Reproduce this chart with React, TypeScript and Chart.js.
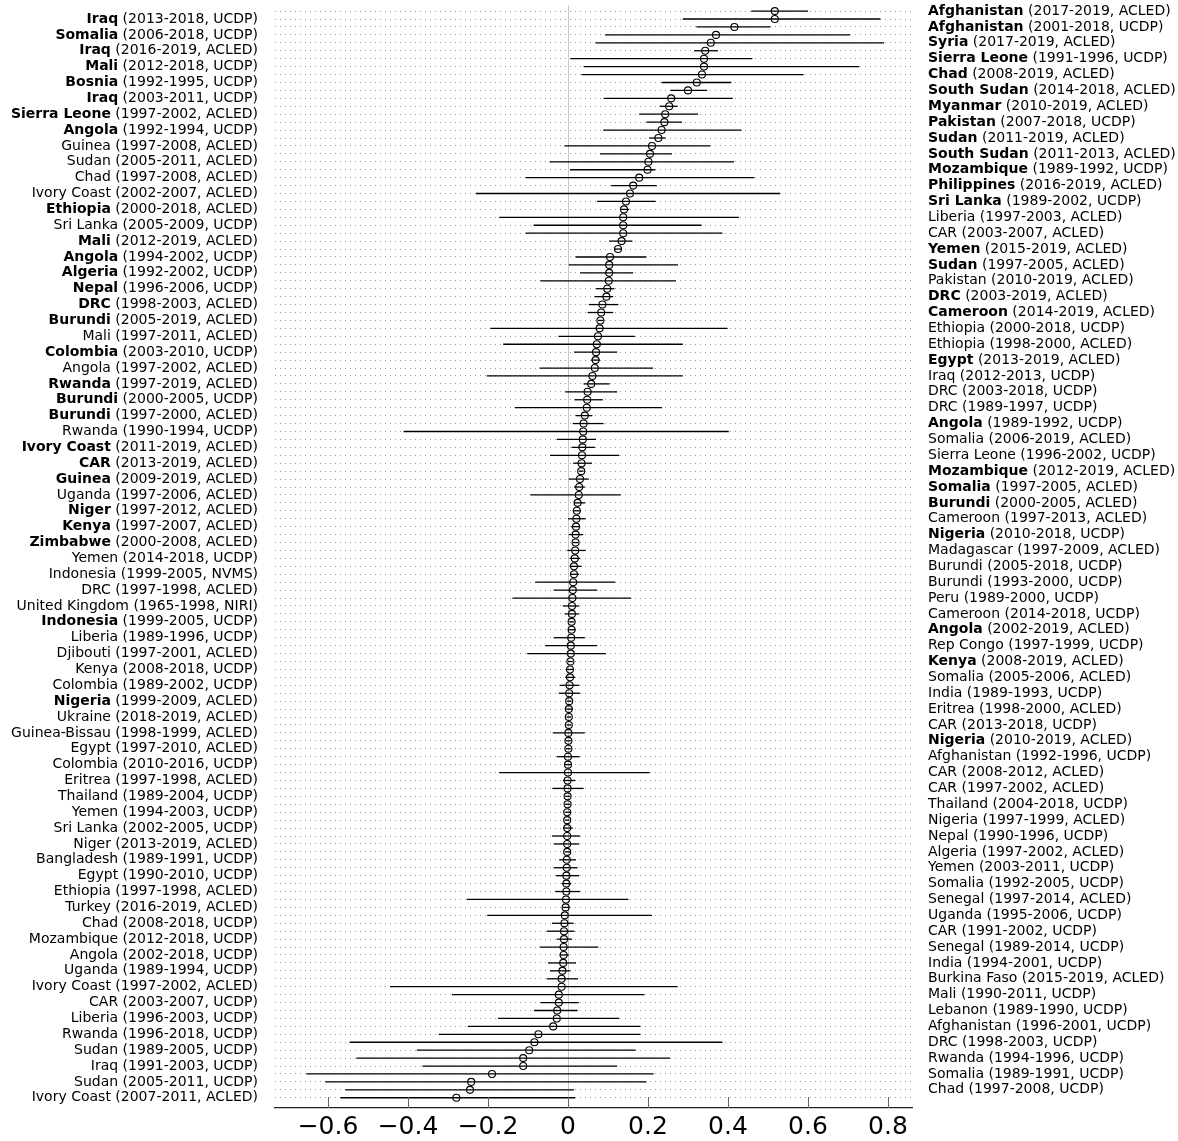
import React, { useEffect, useRef } from "react";
import { Chart, registerables } from "chart.js";

Chart.register(...registerables);

// Rows from top to bottom; even rows are labelled on the right, odd rows on the left.
const rowLabels: string[] = [
  "Afghanistan (2017-2019, ACLED)", "Iraq (2013-2018, UCDP)",
  "Afghanistan (2001-2018, UCDP)", "Somalia (2006-2018, UCDP)",
  "Syria (2017-2019, ACLED)", "Iraq (2016-2019, ACLED)",
  "Sierra Leone (1991-1996, UCDP)", "Mali (2012-2018, UCDP)",
  "Chad (2008-2019, ACLED)", "Bosnia (1992-1995, UCDP)",
  "South Sudan (2014-2018, ACLED)", "Iraq (2003-2011, UCDP)",
  "Myanmar (2010-2019, ACLED)", "Sierra Leone (1997-2002, ACLED)",
  "Pakistan (2007-2018, UCDP)", "Angola (1992-1994, UCDP)",
  "Sudan (2011-2019, ACLED)", "Guinea (1997-2008, ACLED)",
  "South Sudan (2011-2013, ACLED)", "Sudan (2005-2011, ACLED)",
  "Mozambique (1989-1992, UCDP)", "Chad (1997-2008, ACLED)",
  "Philippines (2016-2019, ACLED)", "Ivory Coast (2002-2007, ACLED)",
  "Sri Lanka (1989-2002, UCDP)", "Ethiopia (2000-2018, ACLED)",
  "Liberia (1997-2003, ACLED)", "Sri Lanka (2005-2009, UCDP)",
  "CAR (2003-2007, ACLED)", "Mali (2012-2019, ACLED)",
  "Yemen (2015-2019, ACLED)", "Angola (1994-2002, UCDP)",
  "Sudan (1997-2005, ACLED)", "Algeria (1992-2002, UCDP)",
  "Pakistan (2010-2019, ACLED)", "Nepal (1996-2006, UCDP)",
  "DRC (2003-2019, ACLED)", "DRC (1998-2003, ACLED)",
  "Cameroon (2014-2019, ACLED)", "Burundi (2005-2019, ACLED)",
  "Ethiopia (2000-2018, UCDP)", "Mali (1997-2011, ACLED)",
  "Ethiopia (1998-2000, ACLED)", "Colombia (2003-2010, UCDP)",
  "Egypt (2013-2019, ACLED)", "Angola (1997-2002, ACLED)",
  "Iraq (2012-2013, UCDP)", "Rwanda (1997-2019, ACLED)",
  "DRC (2003-2018, UCDP)", "Burundi (2000-2005, UCDP)",
  "DRC (1989-1997, UCDP)", "Burundi (1997-2000, ACLED)",
  "Angola (1989-1992, UCDP)", "Rwanda (1990-1994, UCDP)",
  "Somalia (2006-2019, ACLED)", "Ivory Coast (2011-2019, ACLED)",
  "Sierra Leone (1996-2002, UCDP)", "CAR (2013-2019, ACLED)",
  "Mozambique (2012-2019, ACLED)", "Guinea (2009-2019, ACLED)",
  "Somalia (1997-2005, ACLED)", "Uganda (1997-2006, ACLED)",
  "Burundi (2000-2005, ACLED)", "Niger (1997-2012, ACLED)",
  "Cameroon (1997-2013, ACLED)", "Kenya (1997-2007, ACLED)",
  "Nigeria (2010-2018, UCDP)", "Zimbabwe (2000-2008, ACLED)",
  "Madagascar (1997-2009, ACLED)", "Yemen (2014-2018, UCDP)",
  "Burundi (2005-2018, UCDP)", "Indonesia (1999-2005, NVMS)",
  "Burundi (1993-2000, UCDP)", "DRC (1997-1998, ACLED)",
  "Peru (1989-2000, UCDP)", "United Kingdom (1965-1998, NIRI)",
  "Cameroon (2014-2018, UCDP)", "Indonesia (1999-2005, UCDP)",
  "Angola (2002-2019, ACLED)", "Liberia (1989-1996, UCDP)",
  "Rep Congo (1997-1999, UCDP)", "Djibouti (1997-2001, ACLED)",
  "Kenya (2008-2019, ACLED)", "Kenya (2008-2018, UCDP)",
  "Somalia (2005-2006, ACLED)", "Colombia (1989-2002, UCDP)",
  "India (1989-1993, UCDP)", "Nigeria (1999-2009, ACLED)",
  "Eritrea (1998-2000, ACLED)", "Ukraine (2018-2019, ACLED)",
  "CAR (2013-2018, UCDP)", "Guinea-Bissau (1998-1999, ACLED)",
  "Nigeria (2010-2019, ACLED)", "Egypt (1997-2010, ACLED)",
  "Afghanistan (1992-1996, UCDP)", "Colombia (2010-2016, UCDP)",
  "CAR (2008-2012, ACLED)", "Eritrea (1997-1998, ACLED)",
  "CAR (1997-2002, ACLED)", "Thailand (1989-2004, UCDP)",
  "Thailand (2004-2018, UCDP)", "Yemen (1994-2003, UCDP)",
  "Nigeria (1997-1999, ACLED)", "Sri Lanka (2002-2005, UCDP)",
  "Nepal (1990-1996, UCDP)", "Niger (2013-2019, ACLED)",
  "Algeria (1997-2002, ACLED)", "Bangladesh (1989-1991, UCDP)",
  "Yemen (2003-2011, UCDP)", "Egypt (1990-2010, UCDP)",
  "Somalia (1992-2005, UCDP)", "Ethiopia (1997-1998, ACLED)",
  "Senegal (1997-2014, ACLED)", "Turkey (2016-2019, ACLED)",
  "Uganda (1995-2006, UCDP)", "Chad (2008-2018, UCDP)",
  "CAR (1991-2002, UCDP)", "Mozambique (2012-2018, UCDP)",
  "Senegal (1989-2014, UCDP)", "Angola (2002-2018, UCDP)",
  "India (1994-2001, UCDP)", "Uganda (1989-1994, UCDP)",
  "Burkina Faso (2015-2019, ACLED)", "Ivory Coast (1997-2002, ACLED)",
  "Mali (1990-2011, UCDP)", "CAR (2003-2007, UCDP)",
  "Lebanon (1989-1990, UCDP)", "Liberia (1996-2003, UCDP)",
  "Afghanistan (1996-2001, UCDP)", "Rwanda (1996-2018, UCDP)",
  "DRC (1998-2003, UCDP)", "Sudan (1989-2005, UCDP)",
  "Rwanda (1994-1996, UCDP)", "Iraq (1991-2003, UCDP)",
  "Somalia (1989-1991, UCDP)", "Sudan (2005-2011, UCDP)",
  "Chad (1997-2008, UCDP)", "Ivory Coast (2007-2011, ACLED)",
];

// Rows whose country name is set in bold
const boldRows: number[] = [
  0, 1, 2, 3, 4, 5, 6, 7, 8, 9, 10, 11, 12, 13, 14, 15, 16,
  18, 20, 22, 24, 25, 29, 30, 31, 32, 33, 35, 36, 37, 38, 39,
  43, 44, 47, 49, 51, 52, 55, 57, 58, 59, 60, 62, 63, 65, 66, 67,
  77, 78, 82, 87, 92,
];

const estimates: number[] = [
  0.517, 0.517, 0.416, 0.370, 0.357, 0.343, 0.340, 0.340, 0.335, 0.322,
  0.300, 0.258, 0.253, 0.243, 0.241, 0.234, 0.226, 0.210, 0.205, 0.201,
  0.199, 0.178, 0.163, 0.155, 0.145, 0.140, 0.138, 0.138, 0.138, 0.134,
  0.125, 0.105, 0.103, 0.103, 0.102, 0.098, 0.096, 0.086, 0.083, 0.081,
  0.079, 0.075, 0.072, 0.070, 0.069, 0.067, 0.061, 0.058, 0.049, 0.048,
  0.047, 0.042, 0.039, 0.038, 0.037, 0.036, 0.035, 0.034, 0.033, 0.030,
  0.028, 0.027, 0.024, 0.022, 0.021, 0.020, 0.019, 0.019, 0.018, 0.017,
  0.015, 0.015, 0.013, 0.012, 0.011, 0.010, 0.010, 0.009, 0.009, 0.008,
  0.007, 0.007, 0.006, 0.005, 0.005, 0.004, 0.003, 0.003, 0.002, 0.002,
  0.002, 0.001, 0.001, 0.001, 0.000, 0.000, 0.000, -0.001, -0.001, -0.001,
  -0.001, -0.002, -0.002, -0.002, -0.002, -0.002, -0.002, -0.003, -0.003, -0.004,
  -0.004, -0.004, -0.005, -0.006, -0.008, -0.009, -0.010, -0.010, -0.011, -0.011,
  -0.012, -0.014, -0.016, -0.016, -0.023, -0.023, -0.027, -0.028, -0.037, -0.074,
  -0.084, -0.097, -0.112, -0.112, -0.190, -0.242, -0.245, -0.279,
];

const lowerCI: number[] = [
  0.458, 0.287, 0.321, 0.093, 0.069, 0.315, 0.006, 0.039, 0.034, 0.234,
  0.256, 0.089, 0.229, 0.178, 0.196, 0.088, 0.203, -0.009, 0.080, -0.046,
  0.005, -0.106, 0.108, -0.230, 0.073, 0.131, -0.172, -0.086, -0.106, 0.103,
  0.116, 0.019, 0.002, 0.030, -0.069, 0.070, 0.066, 0.052, 0.049, 0.075,
  -0.194, -0.024, -0.162, 0.015, 0.058, -0.071, -0.203, 0.039, -0.007, 0.016,
  -0.133, 0.019, 0.012, -0.411, -0.028, 0.009, -0.045, 0.013, 0.027, 0.002,
  0.015, -0.094, 0.015, 0.013, 0.000, 0.008, 0.002, 0.012, -0.002, 0.004,
  0.004, 0.006, -0.082, -0.036, -0.139, -0.013, -0.008, 0.003, 0.000, -0.036,
  -0.057, -0.102, 0.000, -0.005, -0.007, -0.021, -0.023, -0.003, -0.006, -0.004,
  -0.004, -0.038, -0.005, -0.005, -0.028, -0.010, -0.172, -0.013, -0.039, -0.007,
  -0.007, -0.008, -0.008, -0.012, -0.040, -0.036, -0.008, -0.022, -0.036, -0.030,
  -0.016, -0.032, -0.253, -0.014, -0.202, -0.040, -0.053, -0.028, -0.071, -0.021,
  -0.050, -0.045, -0.053, -0.445, -0.290, -0.069, -0.085, -0.175, -0.250, -0.323,
  -0.546, -0.378, -0.529, -0.364, -0.654, -0.607, -0.557, -0.569,
];

const upperCI: number[] = [
  0.600, 0.781, 0.506, 0.705, 0.790, 0.375, 0.461, 0.728, 0.589, 0.408,
  0.348, 0.412, 0.274, 0.325, 0.285, 0.434, 0.244, 0.356, 0.260, 0.415,
  0.218, 0.466, 0.222, 0.530, 0.219, 0.153, 0.427, 0.334, 0.386, 0.161,
  0.133, 0.196, 0.275, 0.163, 0.270, 0.116, 0.113, 0.126, 0.113, 0.088,
  0.399, 0.167, 0.287, 0.123, 0.080, 0.213, 0.287, 0.104, 0.123, 0.087,
  0.235, 0.061, 0.089, 0.402, 0.070, 0.067, 0.128, 0.060, 0.039, 0.052,
  0.042, 0.132, 0.043, 0.031, 0.044, 0.029, 0.038, 0.026, 0.044, 0.030,
  0.034, 0.028, 0.118, 0.073, 0.158, 0.028, 0.028, 0.015, 0.019, 0.042,
  0.073, 0.095, 0.012, 0.015, 0.018, 0.028, 0.030, 0.009, 0.012, 0.008,
  0.008, 0.042, 0.007, 0.007, 0.029, 0.009, 0.204, 0.018, 0.039, 0.005,
  0.005, 0.008, 0.004, 0.012, 0.030, 0.028, 0.006, 0.020, 0.024, 0.028,
  0.008, 0.030, 0.151, 0.004, 0.210, 0.014, 0.016, 0.010, 0.076, 0.002,
  0.020, 0.006, 0.025, 0.274, 0.191, 0.027, 0.024, 0.128, 0.181, 0.181,
  0.386, 0.169, 0.255, 0.123, 0.214, 0.196, 0.015, 0.018,
];

const xTickValues: number[] = [-0.6, -0.4, -0.2, 0, 0.2, 0.4, 0.6, 0.8];

const W = 1178;
const H = 1141;
const LABEL_FONT = 14;
const FAMILY = '"DejaVu Sans"';

function fmtTick(v: number): string {
  if (Math.abs(v) < 1e-9) return "0";
  return (v < 0 ? "\u2212" : "") + Math.abs(v).toFixed(1);
}

export default function App() {
  const ref = useRef<HTMLCanvasElement>(null);

  useEffect(() => {
    const canvas = ref.current;
    if (!canvas) return;

    const ciSets = estimates.map((_, i) => ({
      type: "scatter",
      data: [
        { x: lowerCI[i], y: i },
        { x: upperCI[i], y: i },
      ],
      showLine: true,
      borderColor: "#000",
      borderWidth: 1.3,
      pointRadius: 0,
      pointHoverRadius: 0,
      order: 2,
    }));

    const pointSet = {
      type: "scatter",
      data: estimates.map((v, i) => ({ x: v, y: i })),
      showLine: false,
      pointRadius: 3.5,
      pointBorderWidth: 1.1,
      pointBorderColor: "#000",
      pointBackgroundColor: "rgba(0,0,0,0)",
      order: 1,
    };

    const labelPlugin = {
      id: "rowLabels",
      afterDraw(chart: any) {
        const ctx = chart.ctx as CanvasRenderingContext2D;
        const ys = chart.scales.y;
        const xs = chart.scales.x;
        const area = chart.chartArea;
        ctx.save();
        ctx.textBaseline = "middle";
        ctx.textAlign = "left";
        ctx.fillStyle = "#000";
        rowLabels.forEach((label, i) => {
          const py = ys.getPixelForValue(i);
          const cut = label.indexOf(" (");
          const head = label.slice(0, cut);
          const tail = label.slice(cut);
          const headFont = `${boldRows.includes(i) ? "bold " : ""}${LABEL_FONT}px ${FAMILY}`;
          const tailFont = `${LABEL_FONT}px ${FAMILY}`;
          ctx.font = headFont;
          const hw = ctx.measureText(head).width;
          ctx.font = tailFont;
          const tw = ctx.measureText(tail).width;
          const x0 = i % 2 === 1 ? area.left - 17 - hw - tw : area.right + 16;
          ctx.font = headFont;
          ctx.fillText(head, x0, py);
          ctx.font = tailFont;
          ctx.fillText(tail, x0 + hw, py);
        });
        // inward tick marks on the x axis
        ctx.strokeStyle = "#666";
        ctx.lineWidth = 1;
        xTickValues.forEach((v) => {
          const px = Math.round(xs.getPixelForValue(v)) + 0.5;
          ctx.beginPath();
          ctx.moveTo(px, area.bottom);
          ctx.lineTo(px, area.bottom - 11);
          ctx.stroke();
        });
        ctx.restore();
      },
    };

    const chart = new Chart(canvas, {
      type: "scatter",
      data: { datasets: [pointSet as any, ...(ciSets as any[])] },
      options: {
        responsive: false,
        animation: false,
        events: [],
        layout: { padding: { left: 275, right: W - 912, top: 4, bottom: 0 } },
        plugins: {
          legend: { display: false },
          tooltip: { enabled: false },
        },
        scales: {
          x: {
            type: "linear",
            min: -0.7325,
            max: 0.86,
            afterBuildTicks: (s: any) => {
              s.ticks = xTickValues.map((v) => ({ value: v }));
            },
            afterFit: (s: any) => {
              s.height = 33;
            },
            grid: {
              color: (c: any) =>
                c.tick && Math.abs(c.tick.value) < 1e-9 ? "#c8c8c8" : "rgba(0,0,0,0)",
              drawTicks: false,
              lineWidth: 1,
            },
            border: { display: true, color: "#222", width: 1.3 },
            ticks: {
              color: "#000",
              font: { size: 25, family: "DejaVu Sans" },
              padding: 4,
              autoSkip: false,
              maxRotation: 0,
              callback: (v: any) => fmtTick(Number(v)),
            },
          },
          y: {
            type: "linear",
            reverse: true,
            min: -0.755,
            max: 138.29,
            afterBuildTicks: (s: any) => {
              s.ticks = rowLabels.map((_, i) => ({ value: i }));
            },
            afterFit: (s: any) => {
              s.width = 0;
            },
            grid: { color: "#9a9a9a", lineWidth: 1, drawTicks: false },
            border: { display: false, dash: [1, 4] },
            ticks: { display: false },
          },
        },
      },
      plugins: [labelPlugin],
    });

    return () => chart.destroy();
  }, []);

  return (
    <div style={{ position: "absolute", left: 0, top: 0, width: W, height: H, background: "#fff" }}>
      <canvas ref={ref} width={W} height={H} style={{ display: "block", width: W, height: H }} />
    </div>
  );
}
